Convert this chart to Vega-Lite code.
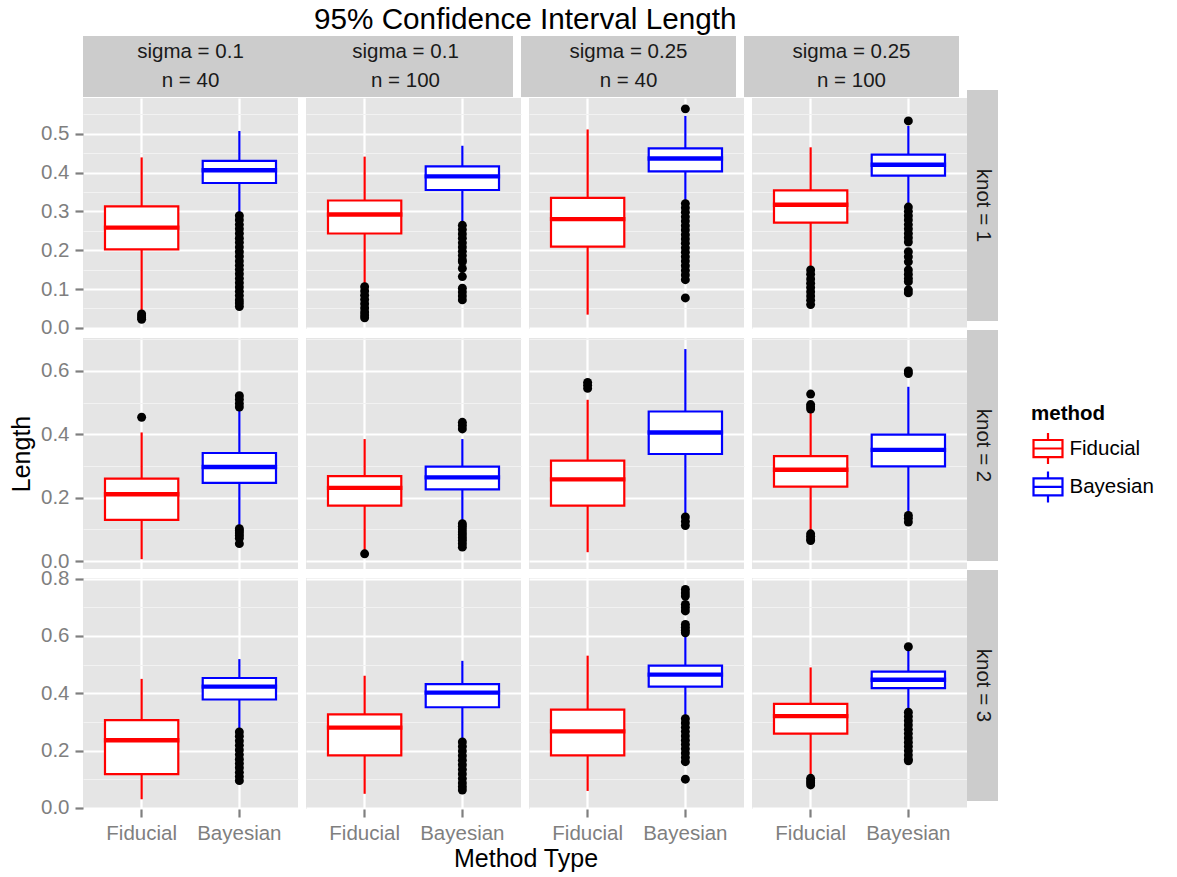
{
 "$schema": "https://vega.github.io/schema/vega-lite/v6.json",
 "background": "white",
 "padding": {"left": 9, "top": 5, "right": 5, "bottom": 5},
 "title": {"text": "95% Confidence Interval Length", "anchor": "start", "frame": "group", "dx": 231, "fontSize": 29.7, "fontWeight": "normal", "color": "#000000", "offset": -2},
 "datasets": {
  "box": [
   {"knot":1,"sigma":0.1,"n":40,"method":"Fiducial","lo":0.042,"q1":0.202,"med":0.258,"q3":0.313,"hi":0.439},
   {"knot":1,"sigma":0.1,"n":40,"method":"Bayesian","lo":0.294,"q1":0.373,"med":0.406,"q3":0.430,"hi":0.507},
   {"knot":1,"sigma":0.1,"n":100,"method":"Fiducial","lo":0.111,"q1":0.243,"med":0.292,"q3":0.328,"hi":0.441},
   {"knot":1,"sigma":0.1,"n":100,"method":"Bayesian","lo":0.268,"q1":0.355,"med":0.390,"q3":0.416,"hi":0.469},
   {"knot":1,"sigma":0.25,"n":40,"method":"Fiducial","lo":0.034,"q1":0.209,"med":0.280,"q3":0.335,"hi":0.511},
   {"knot":1,"sigma":0.25,"n":40,"method":"Bayesian","lo":0.324,"q1":0.403,"med":0.436,"q3":0.462,"hi":0.546},
   {"knot":1,"sigma":0.25,"n":100,"method":"Fiducial","lo":0.152,"q1":0.271,"med":0.317,"q3":0.354,"hi":0.465},
   {"knot":1,"sigma":0.25,"n":100,"method":"Bayesian","lo":0.317,"q1":0.392,"med":0.420,"q3":0.446,"hi":0.520},
   {"knot":2,"sigma":0.1,"n":40,"method":"Fiducial","lo":0.006,"q1":0.130,"med":0.211,"q3":0.260,"hi":0.406},
   {"knot":2,"sigma":0.1,"n":40,"method":"Bayesian","lo":0.107,"q1":0.247,"med":0.297,"q3":0.341,"hi":0.475},
   {"knot":2,"sigma":0.1,"n":100,"method":"Fiducial","lo":0.034,"q1":0.175,"med":0.231,"q3":0.268,"hi":0.385},
   {"knot":2,"sigma":0.1,"n":100,"method":"Bayesian","lo":0.120,"q1":0.226,"med":0.264,"q3":0.298,"hi":0.385},
   {"knot":2,"sigma":0.25,"n":40,"method":"Fiducial","lo":0.028,"q1":0.175,"med":0.258,"q3":0.317,"hi":0.509},
   {"knot":2,"sigma":0.25,"n":40,"method":"Bayesian","lo":0.144,"q1":0.338,"med":0.406,"q3":0.472,"hi":0.669},
   {"knot":2,"sigma":0.25,"n":100,"method":"Fiducial","lo":0.091,"q1":0.235,"med":0.288,"q3":0.331,"hi":0.469},
   {"knot":2,"sigma":0.25,"n":100,"method":"Bayesian","lo":0.149,"q1":0.299,"med":0.351,"q3":0.399,"hi":0.550},
   {"knot":3,"sigma":0.1,"n":40,"method":"Fiducial","lo":0.030,"q1":0.118,"med":0.236,"q3":0.306,"hi":0.450},
   {"knot":3,"sigma":0.1,"n":40,"method":"Bayesian","lo":0.270,"q1":0.378,"med":0.423,"q3":0.453,"hi":0.519},
   {"knot":3,"sigma":0.1,"n":100,"method":"Fiducial","lo":0.049,"q1":0.183,"med":0.280,"q3":0.326,"hi":0.461},
   {"knot":3,"sigma":0.1,"n":100,"method":"Bayesian","lo":0.236,"q1":0.351,"med":0.402,"q3":0.432,"hi":0.513},
   {"knot":3,"sigma":0.25,"n":40,"method":"Fiducial","lo":0.059,"q1":0.183,"med":0.267,"q3":0.343,"hi":0.531},
   {"knot":3,"sigma":0.25,"n":40,"method":"Bayesian","lo":0.317,"q1":0.423,"med":0.465,"q3":0.496,"hi":0.600},
   {"knot":3,"sigma":0.25,"n":100,"method":"Fiducial","lo":0.106,"q1":0.259,"med":0.320,"q3":0.363,"hi":0.490},
   {"knot":3,"sigma":0.25,"n":100,"method":"Bayesian","lo":0.340,"q1":0.418,"med":0.447,"q3":0.475,"hi":0.548}
  ],
  "out": [
   {"knot":1,"sigma":0.1,"n":40,"method":"Fiducial","Length":0.036},
   {"knot":1,"sigma":0.1,"n":40,"method":"Fiducial","Length":0.031},
   {"knot":1,"sigma":0.1,"n":40,"method":"Fiducial","Length":0.026},
   {"knot":1,"sigma":0.1,"n":40,"method":"Fiducial","Length":0.022},
   {"knot":1,"sigma":0.1,"n":40,"method":"Bayesian","Length":0.289},
   {"knot":1,"sigma":0.1,"n":40,"method":"Bayesian","Length":0.278},
   {"knot":1,"sigma":0.1,"n":40,"method":"Bayesian","Length":0.266},
   {"knot":1,"sigma":0.1,"n":40,"method":"Bayesian","Length":0.255},
   {"knot":1,"sigma":0.1,"n":40,"method":"Bayesian","Length":0.243},
   {"knot":1,"sigma":0.1,"n":40,"method":"Bayesian","Length":0.231},
   {"knot":1,"sigma":0.1,"n":40,"method":"Bayesian","Length":0.220},
   {"knot":1,"sigma":0.1,"n":40,"method":"Bayesian","Length":0.208},
   {"knot":1,"sigma":0.1,"n":40,"method":"Bayesian","Length":0.196},
   {"knot":1,"sigma":0.1,"n":40,"method":"Bayesian","Length":0.184},
   {"knot":1,"sigma":0.1,"n":40,"method":"Bayesian","Length":0.172},
   {"knot":1,"sigma":0.1,"n":40,"method":"Bayesian","Length":0.161},
   {"knot":1,"sigma":0.1,"n":40,"method":"Bayesian","Length":0.150},
   {"knot":1,"sigma":0.1,"n":40,"method":"Bayesian","Length":0.139},
   {"knot":1,"sigma":0.1,"n":40,"method":"Bayesian","Length":0.127},
   {"knot":1,"sigma":0.1,"n":40,"method":"Bayesian","Length":0.116},
   {"knot":1,"sigma":0.1,"n":40,"method":"Bayesian","Length":0.105},
   {"knot":1,"sigma":0.1,"n":40,"method":"Bayesian","Length":0.094},
   {"knot":1,"sigma":0.1,"n":40,"method":"Bayesian","Length":0.083},
   {"knot":1,"sigma":0.1,"n":40,"method":"Bayesian","Length":0.072},
   {"knot":1,"sigma":0.1,"n":40,"method":"Bayesian","Length":0.064},
   {"knot":1,"sigma":0.1,"n":40,"method":"Bayesian","Length":0.055},
   {"knot":1,"sigma":0.1,"n":100,"method":"Fiducial","Length":0.106},
   {"knot":1,"sigma":0.1,"n":100,"method":"Fiducial","Length":0.095},
   {"knot":1,"sigma":0.1,"n":100,"method":"Fiducial","Length":0.084},
   {"knot":1,"sigma":0.1,"n":100,"method":"Fiducial","Length":0.073},
   {"knot":1,"sigma":0.1,"n":100,"method":"Fiducial","Length":0.062},
   {"knot":1,"sigma":0.1,"n":100,"method":"Fiducial","Length":0.051},
   {"knot":1,"sigma":0.1,"n":100,"method":"Fiducial","Length":0.041},
   {"knot":1,"sigma":0.1,"n":100,"method":"Fiducial","Length":0.033},
   {"knot":1,"sigma":0.1,"n":100,"method":"Fiducial","Length":0.026},
   {"knot":1,"sigma":0.1,"n":100,"method":"Bayesian","Length":0.264},
   {"knot":1,"sigma":0.1,"n":100,"method":"Bayesian","Length":0.253},
   {"knot":1,"sigma":0.1,"n":100,"method":"Bayesian","Length":0.242},
   {"knot":1,"sigma":0.1,"n":100,"method":"Bayesian","Length":0.231},
   {"knot":1,"sigma":0.1,"n":100,"method":"Bayesian","Length":0.219},
   {"knot":1,"sigma":0.1,"n":100,"method":"Bayesian","Length":0.208},
   {"knot":1,"sigma":0.1,"n":100,"method":"Bayesian","Length":0.197},
   {"knot":1,"sigma":0.1,"n":100,"method":"Bayesian","Length":0.186},
   {"knot":1,"sigma":0.1,"n":100,"method":"Bayesian","Length":0.175},
   {"knot":1,"sigma":0.1,"n":100,"method":"Bayesian","Length":0.170},
   {"knot":1,"sigma":0.1,"n":100,"method":"Bayesian","Length":0.153},
   {"knot":1,"sigma":0.1,"n":100,"method":"Bayesian","Length":0.132},
   {"knot":1,"sigma":0.1,"n":100,"method":"Bayesian","Length":0.102},
   {"knot":1,"sigma":0.1,"n":100,"method":"Bayesian","Length":0.092},
   {"knot":1,"sigma":0.1,"n":100,"method":"Bayesian","Length":0.082},
   {"knot":1,"sigma":0.1,"n":100,"method":"Bayesian","Length":0.072},
   {"knot":1,"sigma":0.25,"n":40,"method":"Bayesian","Length":0.564},
   {"knot":1,"sigma":0.25,"n":40,"method":"Bayesian","Length":0.320},
   {"knot":1,"sigma":0.25,"n":40,"method":"Bayesian","Length":0.309},
   {"knot":1,"sigma":0.25,"n":40,"method":"Bayesian","Length":0.298},
   {"knot":1,"sigma":0.25,"n":40,"method":"Bayesian","Length":0.286},
   {"knot":1,"sigma":0.25,"n":40,"method":"Bayesian","Length":0.275},
   {"knot":1,"sigma":0.25,"n":40,"method":"Bayesian","Length":0.263},
   {"knot":1,"sigma":0.25,"n":40,"method":"Bayesian","Length":0.252},
   {"knot":1,"sigma":0.25,"n":40,"method":"Bayesian","Length":0.240},
   {"knot":1,"sigma":0.25,"n":40,"method":"Bayesian","Length":0.229},
   {"knot":1,"sigma":0.25,"n":40,"method":"Bayesian","Length":0.218},
   {"knot":1,"sigma":0.25,"n":40,"method":"Bayesian","Length":0.206},
   {"knot":1,"sigma":0.25,"n":40,"method":"Bayesian","Length":0.195},
   {"knot":1,"sigma":0.25,"n":40,"method":"Bayesian","Length":0.183},
   {"knot":1,"sigma":0.25,"n":40,"method":"Bayesian","Length":0.172},
   {"knot":1,"sigma":0.25,"n":40,"method":"Bayesian","Length":0.160},
   {"knot":1,"sigma":0.25,"n":40,"method":"Bayesian","Length":0.148},
   {"knot":1,"sigma":0.25,"n":40,"method":"Bayesian","Length":0.136},
   {"knot":1,"sigma":0.25,"n":40,"method":"Bayesian","Length":0.124},
   {"knot":1,"sigma":0.25,"n":40,"method":"Bayesian","Length":0.077},
   {"knot":1,"sigma":0.25,"n":100,"method":"Fiducial","Length":0.149},
   {"knot":1,"sigma":0.25,"n":100,"method":"Fiducial","Length":0.138},
   {"knot":1,"sigma":0.25,"n":100,"method":"Fiducial","Length":0.126},
   {"knot":1,"sigma":0.25,"n":100,"method":"Fiducial","Length":0.115},
   {"knot":1,"sigma":0.25,"n":100,"method":"Fiducial","Length":0.104},
   {"knot":1,"sigma":0.25,"n":100,"method":"Fiducial","Length":0.093},
   {"knot":1,"sigma":0.25,"n":100,"method":"Fiducial","Length":0.082},
   {"knot":1,"sigma":0.25,"n":100,"method":"Fiducial","Length":0.071},
   {"knot":1,"sigma":0.25,"n":100,"method":"Fiducial","Length":0.060},
   {"knot":1,"sigma":0.25,"n":100,"method":"Bayesian","Length":0.533},
   {"knot":1,"sigma":0.25,"n":100,"method":"Bayesian","Length":0.311},
   {"knot":1,"sigma":0.25,"n":100,"method":"Bayesian","Length":0.300},
   {"knot":1,"sigma":0.25,"n":100,"method":"Bayesian","Length":0.289},
   {"knot":1,"sigma":0.25,"n":100,"method":"Bayesian","Length":0.278},
   {"knot":1,"sigma":0.25,"n":100,"method":"Bayesian","Length":0.266},
   {"knot":1,"sigma":0.25,"n":100,"method":"Bayesian","Length":0.255},
   {"knot":1,"sigma":0.25,"n":100,"method":"Bayesian","Length":0.243},
   {"knot":1,"sigma":0.25,"n":100,"method":"Bayesian","Length":0.232},
   {"knot":1,"sigma":0.25,"n":100,"method":"Bayesian","Length":0.221},
   {"knot":1,"sigma":0.25,"n":100,"method":"Bayesian","Length":0.196},
   {"knot":1,"sigma":0.25,"n":100,"method":"Bayesian","Length":0.183},
   {"knot":1,"sigma":0.25,"n":100,"method":"Bayesian","Length":0.170},
   {"knot":1,"sigma":0.25,"n":100,"method":"Bayesian","Length":0.149},
   {"knot":1,"sigma":0.25,"n":100,"method":"Bayesian","Length":0.138},
   {"knot":1,"sigma":0.25,"n":100,"method":"Bayesian","Length":0.127},
   {"knot":1,"sigma":0.25,"n":100,"method":"Bayesian","Length":0.119},
   {"knot":1,"sigma":0.25,"n":100,"method":"Bayesian","Length":0.098},
   {"knot":1,"sigma":0.25,"n":100,"method":"Bayesian","Length":0.090},
   {"knot":2,"sigma":0.1,"n":40,"method":"Fiducial","Length":0.454},
   {"knot":2,"sigma":0.1,"n":40,"method":"Bayesian","Length":0.522},
   {"knot":2,"sigma":0.1,"n":40,"method":"Bayesian","Length":0.510},
   {"knot":2,"sigma":0.1,"n":40,"method":"Bayesian","Length":0.497},
   {"knot":2,"sigma":0.1,"n":40,"method":"Bayesian","Length":0.486},
   {"knot":2,"sigma":0.1,"n":40,"method":"Bayesian","Length":0.102},
   {"knot":2,"sigma":0.1,"n":40,"method":"Bayesian","Length":0.096},
   {"knot":2,"sigma":0.1,"n":40,"method":"Bayesian","Length":0.089},
   {"knot":2,"sigma":0.1,"n":40,"method":"Bayesian","Length":0.081},
   {"knot":2,"sigma":0.1,"n":40,"method":"Bayesian","Length":0.072},
   {"knot":2,"sigma":0.1,"n":40,"method":"Bayesian","Length":0.055},
   {"knot":2,"sigma":0.1,"n":100,"method":"Fiducial","Length":0.023},
   {"knot":2,"sigma":0.1,"n":100,"method":"Bayesian","Length":0.438},
   {"knot":2,"sigma":0.1,"n":100,"method":"Bayesian","Length":0.428},
   {"knot":2,"sigma":0.1,"n":100,"method":"Bayesian","Length":0.417},
   {"knot":2,"sigma":0.1,"n":100,"method":"Bayesian","Length":0.118},
   {"knot":2,"sigma":0.1,"n":100,"method":"Bayesian","Length":0.110},
   {"knot":2,"sigma":0.1,"n":100,"method":"Bayesian","Length":0.101},
   {"knot":2,"sigma":0.1,"n":100,"method":"Bayesian","Length":0.092},
   {"knot":2,"sigma":0.1,"n":100,"method":"Bayesian","Length":0.083},
   {"knot":2,"sigma":0.1,"n":100,"method":"Bayesian","Length":0.074},
   {"knot":2,"sigma":0.1,"n":100,"method":"Bayesian","Length":0.065},
   {"knot":2,"sigma":0.1,"n":100,"method":"Bayesian","Length":0.055},
   {"knot":2,"sigma":0.1,"n":100,"method":"Bayesian","Length":0.044},
   {"knot":2,"sigma":0.25,"n":40,"method":"Fiducial","Length":0.564},
   {"knot":2,"sigma":0.25,"n":40,"method":"Fiducial","Length":0.555},
   {"knot":2,"sigma":0.25,"n":40,"method":"Fiducial","Length":0.545},
   {"knot":2,"sigma":0.25,"n":40,"method":"Bayesian","Length":0.139},
   {"knot":2,"sigma":0.25,"n":40,"method":"Bayesian","Length":0.125},
   {"knot":2,"sigma":0.25,"n":40,"method":"Bayesian","Length":0.112},
   {"knot":2,"sigma":0.25,"n":100,"method":"Fiducial","Length":0.527},
   {"knot":2,"sigma":0.25,"n":100,"method":"Fiducial","Length":0.494},
   {"knot":2,"sigma":0.25,"n":100,"method":"Fiducial","Length":0.487},
   {"knot":2,"sigma":0.25,"n":100,"method":"Fiducial","Length":0.480},
   {"knot":2,"sigma":0.25,"n":100,"method":"Fiducial","Length":0.086},
   {"knot":2,"sigma":0.25,"n":100,"method":"Fiducial","Length":0.078},
   {"knot":2,"sigma":0.25,"n":100,"method":"Fiducial","Length":0.070},
   {"knot":2,"sigma":0.25,"n":100,"method":"Fiducial","Length":0.065},
   {"knot":2,"sigma":0.25,"n":100,"method":"Bayesian","Length":0.600},
   {"knot":2,"sigma":0.25,"n":100,"method":"Bayesian","Length":0.592},
   {"knot":2,"sigma":0.25,"n":100,"method":"Bayesian","Length":0.144},
   {"knot":2,"sigma":0.25,"n":100,"method":"Bayesian","Length":0.135},
   {"knot":2,"sigma":0.25,"n":100,"method":"Bayesian","Length":0.123},
   {"knot":3,"sigma":0.1,"n":40,"method":"Bayesian","Length":0.265},
   {"knot":3,"sigma":0.1,"n":40,"method":"Bayesian","Length":0.250},
   {"knot":3,"sigma":0.1,"n":40,"method":"Bayesian","Length":0.234},
   {"knot":3,"sigma":0.1,"n":40,"method":"Bayesian","Length":0.218},
   {"knot":3,"sigma":0.1,"n":40,"method":"Bayesian","Length":0.202},
   {"knot":3,"sigma":0.1,"n":40,"method":"Bayesian","Length":0.186},
   {"knot":3,"sigma":0.1,"n":40,"method":"Bayesian","Length":0.170},
   {"knot":3,"sigma":0.1,"n":40,"method":"Bayesian","Length":0.155},
   {"knot":3,"sigma":0.1,"n":40,"method":"Bayesian","Length":0.140},
   {"knot":3,"sigma":0.1,"n":40,"method":"Bayesian","Length":0.124},
   {"knot":3,"sigma":0.1,"n":40,"method":"Bayesian","Length":0.109},
   {"knot":3,"sigma":0.1,"n":40,"method":"Bayesian","Length":0.095},
   {"knot":3,"sigma":0.1,"n":100,"method":"Bayesian","Length":0.230},
   {"knot":3,"sigma":0.1,"n":100,"method":"Bayesian","Length":0.214},
   {"knot":3,"sigma":0.1,"n":100,"method":"Bayesian","Length":0.198},
   {"knot":3,"sigma":0.1,"n":100,"method":"Bayesian","Length":0.182},
   {"knot":3,"sigma":0.1,"n":100,"method":"Bayesian","Length":0.166},
   {"knot":3,"sigma":0.1,"n":100,"method":"Bayesian","Length":0.150},
   {"knot":3,"sigma":0.1,"n":100,"method":"Bayesian","Length":0.134},
   {"knot":3,"sigma":0.1,"n":100,"method":"Bayesian","Length":0.118},
   {"knot":3,"sigma":0.1,"n":100,"method":"Bayesian","Length":0.102},
   {"knot":3,"sigma":0.1,"n":100,"method":"Bayesian","Length":0.087},
   {"knot":3,"sigma":0.1,"n":100,"method":"Bayesian","Length":0.074},
   {"knot":3,"sigma":0.1,"n":100,"method":"Bayesian","Length":0.062},
   {"knot":3,"sigma":0.25,"n":40,"method":"Bayesian","Length":0.762},
   {"knot":3,"sigma":0.25,"n":40,"method":"Bayesian","Length":0.750},
   {"knot":3,"sigma":0.25,"n":40,"method":"Bayesian","Length":0.739},
   {"knot":3,"sigma":0.25,"n":40,"method":"Bayesian","Length":0.710},
   {"knot":3,"sigma":0.25,"n":40,"method":"Bayesian","Length":0.699},
   {"knot":3,"sigma":0.25,"n":40,"method":"Bayesian","Length":0.687},
   {"knot":3,"sigma":0.25,"n":40,"method":"Bayesian","Length":0.640},
   {"knot":3,"sigma":0.25,"n":40,"method":"Bayesian","Length":0.630},
   {"knot":3,"sigma":0.25,"n":40,"method":"Bayesian","Length":0.620},
   {"knot":3,"sigma":0.25,"n":40,"method":"Bayesian","Length":0.611},
   {"knot":3,"sigma":0.25,"n":40,"method":"Bayesian","Length":0.311},
   {"knot":3,"sigma":0.25,"n":40,"method":"Bayesian","Length":0.296},
   {"knot":3,"sigma":0.25,"n":40,"method":"Bayesian","Length":0.281},
   {"knot":3,"sigma":0.25,"n":40,"method":"Bayesian","Length":0.266},
   {"knot":3,"sigma":0.25,"n":40,"method":"Bayesian","Length":0.251},
   {"knot":3,"sigma":0.25,"n":40,"method":"Bayesian","Length":0.236},
   {"knot":3,"sigma":0.25,"n":40,"method":"Bayesian","Length":0.221},
   {"knot":3,"sigma":0.25,"n":40,"method":"Bayesian","Length":0.206},
   {"knot":3,"sigma":0.25,"n":40,"method":"Bayesian","Length":0.191},
   {"knot":3,"sigma":0.25,"n":40,"method":"Bayesian","Length":0.176},
   {"knot":3,"sigma":0.25,"n":40,"method":"Bayesian","Length":0.161},
   {"knot":3,"sigma":0.25,"n":40,"method":"Bayesian","Length":0.100},
   {"knot":3,"sigma":0.25,"n":100,"method":"Fiducial","Length":0.103},
   {"knot":3,"sigma":0.25,"n":100,"method":"Fiducial","Length":0.095},
   {"knot":3,"sigma":0.25,"n":100,"method":"Fiducial","Length":0.088},
   {"knot":3,"sigma":0.25,"n":100,"method":"Fiducial","Length":0.080},
   {"knot":3,"sigma":0.25,"n":100,"method":"Bayesian","Length":0.562},
   {"knot":3,"sigma":0.25,"n":100,"method":"Bayesian","Length":0.334},
   {"knot":3,"sigma":0.25,"n":100,"method":"Bayesian","Length":0.319},
   {"knot":3,"sigma":0.25,"n":100,"method":"Bayesian","Length":0.304},
   {"knot":3,"sigma":0.25,"n":100,"method":"Bayesian","Length":0.289},
   {"knot":3,"sigma":0.25,"n":100,"method":"Bayesian","Length":0.274},
   {"knot":3,"sigma":0.25,"n":100,"method":"Bayesian","Length":0.259},
   {"knot":3,"sigma":0.25,"n":100,"method":"Bayesian","Length":0.244},
   {"knot":3,"sigma":0.25,"n":100,"method":"Bayesian","Length":0.229},
   {"knot":3,"sigma":0.25,"n":100,"method":"Bayesian","Length":0.214},
   {"knot":3,"sigma":0.25,"n":100,"method":"Bayesian","Length":0.199},
   {"knot":3,"sigma":0.25,"n":100,"method":"Bayesian","Length":0.184},
   {"knot":3,"sigma":0.25,"n":100,"method":"Bayesian","Length":0.170},
   {"knot":3,"sigma":0.25,"n":100,"method":"Bayesian","Length":0.164}
  ]
 },
 "columns": 5,
 "bounds": "flush",
 "align": "each",
 "center": true,
 "spacing": {"row": 9, "column": 8},
 "concat": [
  {"width": 199, "height": 45, "view": {"fill": "#CCCCCC", "stroke": "#CCCCCC", "strokeWidth": 16}, "data": {"values": [{"label": "sigma = 0.1\nn = 40"}]}, "mark": {"type": "text", "fontSize": 20.5, "color": "#1A1A1A", "lineBreak": "\n", "lineHeight": 29, "baseline": "middle", "dy": -14.5}, "encoding": {"text": {"field": "label"}}},
  {"width": 199, "height": 45, "view": {"fill": "#CCCCCC", "stroke": "#CCCCCC", "strokeWidth": 16}, "data": {"values": [{"label": "sigma = 0.1\nn = 100"}]}, "mark": {"type": "text", "fontSize": 20.5, "color": "#1A1A1A", "lineBreak": "\n", "lineHeight": 29, "baseline": "middle", "dy": -14.5}, "encoding": {"text": {"field": "label"}}},
  {"width": 199, "height": 45, "view": {"fill": "#CCCCCC", "stroke": "#CCCCCC", "strokeWidth": 16}, "data": {"values": [{"label": "sigma = 0.25\nn = 40"}]}, "mark": {"type": "text", "fontSize": 20.5, "color": "#1A1A1A", "lineBreak": "\n", "lineHeight": 29, "baseline": "middle", "dy": -14.5}, "encoding": {"text": {"field": "label"}}},
  {"width": 199, "height": 45, "view": {"fill": "#CCCCCC", "stroke": "#CCCCCC", "strokeWidth": 16}, "data": {"values": [{"label": "sigma = 0.25\nn = 100"}]}, "mark": {"type": "text", "fontSize": 20.5, "color": "#1A1A1A", "lineBreak": "\n", "lineHeight": 29, "baseline": "middle", "dy": -14.5}, "encoding": {"text": {"field": "label"}}},
  {"width": 15, "height": 45, "view": {"fill": null, "stroke": null}, "data": {"values": [{"label": ""}]}, "mark": {"type": "text"}, "encoding": {"text": {"field": "label"}}},

  {"width": 215, "height": 231, "view": {"fill": "#E5E5E5", "stroke": null},
   "encoding": {"x": {"field": "method", "type": "nominal", "scale": {"type": "band", "domain": ["Fiducial", "Bayesian"], "paddingInner": 0.25, "paddingOuter": 0.225}, "axis": {"title": null, "labels": false, "ticks": false, "grid": true, "bandPosition": 0.5}},
    "stroke": {"field": "method", "type": "nominal", "scale": {"domain": ["Fiducial", "Bayesian"], "range": ["#FF0000", "#0000FF"]}, "legend": {"orient": "none", "legendX": 948, "legendY": 360}}},
   "layer": [
    {"data": {"name": "box"}, "transform": [{"filter": "datum.knot == 1 && datum.sigma == 0.1 && datum.n == 40"}], "mark": {"type": "rule", "strokeWidth": 2.2},
     "encoding": {"y": {"field": "lo", "type": "quantitative", "scale": {"domain": [-0.003, 0.592], "nice": false, "zero": false}, "axis": {"orient": "right", "title": null, "values": [0.05, 0.15, 0.25, 0.35, 0.45, 0.55], "grid": true, "gridColor": "#F2F2F2", "gridWidth": 1.1, "labels": false, "ticks": false}}, "y2": {"field": "hi"}}},
    {"data": {"name": "box"}, "transform": [{"filter": "datum.knot == 1 && datum.sigma == 0.1 && datum.n == 40"}], "mark": {"type": "bar", "fill": "#FFFFFF", "strokeWidth": 2.2, "opacity": 1},
     "encoding": {"y": {"field": "q1", "type": "quantitative", "scale": {"domain": [-0.003, 0.592], "nice": false, "zero": false}, "axis": {"orient": "left", "title": null, "values": [0, 0.1, 0.2, 0.3, 0.4, 0.5], "format": ".1f", "grid": true}}, "y2": {"field": "q3"}}},
    {"data": {"name": "box"}, "transform": [{"filter": "datum.knot == 1 && datum.sigma == 0.1 && datum.n == 40"}], "mark": {"type": "tick", "filled": false, "thickness": 2.2, "strokeWidth": 2.2, "size": 73.3, "opacity": 1},
     "encoding": {"y": {"field": "med", "type": "quantitative", "scale": {"domain": [-0.003, 0.592], "nice": false, "zero": false}, "axis": null}}},
    {"data": {"name": "out"}, "transform": [{"filter": "datum.knot == 1 && datum.sigma == 0.1 && datum.n == 40"}], "mark": {"type": "point", "filled": true, "fill": "#000000", "strokeWidth": 0, "size": 80, "opacity": 1},
     "encoding": {"y": {"field": "Length", "type": "quantitative", "scale": {"domain": [-0.003, 0.592], "nice": false, "zero": false}, "axis": null}, "stroke": {"value": null}}}
   ],
   "resolve": {"axis": {"y": "independent"}}},

  {"width": 215, "height": 231, "view": {"fill": "#E5E5E5", "stroke": null},
   "encoding": {"x": {"field": "method", "type": "nominal", "scale": {"type": "band", "domain": ["Fiducial", "Bayesian"], "paddingInner": 0.25, "paddingOuter": 0.225}, "axis": {"title": null, "labels": false, "ticks": false, "grid": true, "bandPosition": 0.5}},
    "stroke": {"field": "method", "type": "nominal", "scale": {"domain": ["Fiducial", "Bayesian"], "range": ["#FF0000", "#0000FF"]}, "legend": {"orient": "none", "legendX": 948, "legendY": 360}}},
   "layer": [
    {"data": {"name": "box"}, "transform": [{"filter": "datum.knot == 1 && datum.sigma == 0.1 && datum.n == 100"}], "mark": {"type": "rule", "strokeWidth": 2.2},
     "encoding": {"y": {"field": "lo", "type": "quantitative", "scale": {"domain": [-0.003, 0.592], "nice": false, "zero": false}, "axis": {"orient": "right", "title": null, "values": [0.05, 0.15, 0.25, 0.35, 0.45, 0.55], "grid": true, "gridColor": "#F2F2F2", "gridWidth": 1.1, "labels": false, "ticks": false}}, "y2": {"field": "hi"}}},
    {"data": {"name": "box"}, "transform": [{"filter": "datum.knot == 1 && datum.sigma == 0.1 && datum.n == 100"}], "mark": {"type": "bar", "fill": "#FFFFFF", "strokeWidth": 2.2, "opacity": 1},
     "encoding": {"y": {"field": "q1", "type": "quantitative", "scale": {"domain": [-0.003, 0.592], "nice": false, "zero": false}, "axis": {"orient": "left", "title": null, "values": [0, 0.1, 0.2, 0.3, 0.4, 0.5], "grid": true, "labels": false, "ticks": false}}, "y2": {"field": "q3"}}},
    {"data": {"name": "box"}, "transform": [{"filter": "datum.knot == 1 && datum.sigma == 0.1 && datum.n == 100"}], "mark": {"type": "tick", "filled": false, "thickness": 2.2, "strokeWidth": 2.2, "size": 73.3, "opacity": 1},
     "encoding": {"y": {"field": "med", "type": "quantitative", "scale": {"domain": [-0.003, 0.592], "nice": false, "zero": false}, "axis": null}}},
    {"data": {"name": "out"}, "transform": [{"filter": "datum.knot == 1 && datum.sigma == 0.1 && datum.n == 100"}], "mark": {"type": "point", "filled": true, "fill": "#000000", "strokeWidth": 0, "size": 80, "opacity": 1},
     "encoding": {"y": {"field": "Length", "type": "quantitative", "scale": {"domain": [-0.003, 0.592], "nice": false, "zero": false}, "axis": null}, "stroke": {"value": null}}}
   ],
   "resolve": {"axis": {"y": "independent"}}},

  {"width": 215, "height": 231, "view": {"fill": "#E5E5E5", "stroke": null},
   "encoding": {"x": {"field": "method", "type": "nominal", "scale": {"type": "band", "domain": ["Fiducial", "Bayesian"], "paddingInner": 0.25, "paddingOuter": 0.225}, "axis": {"title": null, "labels": false, "ticks": false, "grid": true, "bandPosition": 0.5}},
    "stroke": {"field": "method", "type": "nominal", "scale": {"domain": ["Fiducial", "Bayesian"], "range": ["#FF0000", "#0000FF"]}, "legend": {"orient": "none", "legendX": 948, "legendY": 360}}},
   "layer": [
    {"data": {"name": "box"}, "transform": [{"filter": "datum.knot == 1 && datum.sigma == 0.25 && datum.n == 40"}], "mark": {"type": "rule", "strokeWidth": 2.2},
     "encoding": {"y": {"field": "lo", "type": "quantitative", "scale": {"domain": [-0.003, 0.592], "nice": false, "zero": false}, "axis": {"orient": "right", "title": null, "values": [0.05, 0.15, 0.25, 0.35, 0.45, 0.55], "grid": true, "gridColor": "#F2F2F2", "gridWidth": 1.1, "labels": false, "ticks": false}}, "y2": {"field": "hi"}}},
    {"data": {"name": "box"}, "transform": [{"filter": "datum.knot == 1 && datum.sigma == 0.25 && datum.n == 40"}], "mark": {"type": "bar", "fill": "#FFFFFF", "strokeWidth": 2.2, "opacity": 1},
     "encoding": {"y": {"field": "q1", "type": "quantitative", "scale": {"domain": [-0.003, 0.592], "nice": false, "zero": false}, "axis": {"orient": "left", "title": null, "values": [0, 0.1, 0.2, 0.3, 0.4, 0.5], "grid": true, "labels": false, "ticks": false}}, "y2": {"field": "q3"}}},
    {"data": {"name": "box"}, "transform": [{"filter": "datum.knot == 1 && datum.sigma == 0.25 && datum.n == 40"}], "mark": {"type": "tick", "filled": false, "thickness": 2.2, "strokeWidth": 2.2, "size": 73.3, "opacity": 1},
     "encoding": {"y": {"field": "med", "type": "quantitative", "scale": {"domain": [-0.003, 0.592], "nice": false, "zero": false}, "axis": null}}},
    {"data": {"name": "out"}, "transform": [{"filter": "datum.knot == 1 && datum.sigma == 0.25 && datum.n == 40"}], "mark": {"type": "point", "filled": true, "fill": "#000000", "strokeWidth": 0, "size": 80, "opacity": 1},
     "encoding": {"y": {"field": "Length", "type": "quantitative", "scale": {"domain": [-0.003, 0.592], "nice": false, "zero": false}, "axis": null}, "stroke": {"value": null}}}
   ],
   "resolve": {"axis": {"y": "independent"}}},

  {"width": 215, "height": 231, "view": {"fill": "#E5E5E5", "stroke": null},
   "encoding": {"x": {"field": "method", "type": "nominal", "scale": {"type": "band", "domain": ["Fiducial", "Bayesian"], "paddingInner": 0.25, "paddingOuter": 0.225}, "axis": {"title": null, "labels": false, "ticks": false, "grid": true, "bandPosition": 0.5}},
    "stroke": {"field": "method", "type": "nominal", "scale": {"domain": ["Fiducial", "Bayesian"], "range": ["#FF0000", "#0000FF"]}, "legend": {"orient": "none", "legendX": 948, "legendY": 360}}},
   "layer": [
    {"data": {"name": "box"}, "transform": [{"filter": "datum.knot == 1 && datum.sigma == 0.25 && datum.n == 100"}], "mark": {"type": "rule", "strokeWidth": 2.2},
     "encoding": {"y": {"field": "lo", "type": "quantitative", "scale": {"domain": [-0.003, 0.592], "nice": false, "zero": false}, "axis": {"orient": "right", "title": null, "values": [0.05, 0.15, 0.25, 0.35, 0.45, 0.55], "grid": true, "gridColor": "#F2F2F2", "gridWidth": 1.1, "labels": false, "ticks": false}}, "y2": {"field": "hi"}}},
    {"data": {"name": "box"}, "transform": [{"filter": "datum.knot == 1 && datum.sigma == 0.25 && datum.n == 100"}], "mark": {"type": "bar", "fill": "#FFFFFF", "strokeWidth": 2.2, "opacity": 1},
     "encoding": {"y": {"field": "q1", "type": "quantitative", "scale": {"domain": [-0.003, 0.592], "nice": false, "zero": false}, "axis": {"orient": "left", "title": null, "values": [0, 0.1, 0.2, 0.3, 0.4, 0.5], "grid": true, "labels": false, "ticks": false}}, "y2": {"field": "q3"}}},
    {"data": {"name": "box"}, "transform": [{"filter": "datum.knot == 1 && datum.sigma == 0.25 && datum.n == 100"}], "mark": {"type": "tick", "filled": false, "thickness": 2.2, "strokeWidth": 2.2, "size": 73.3, "opacity": 1},
     "encoding": {"y": {"field": "med", "type": "quantitative", "scale": {"domain": [-0.003, 0.592], "nice": false, "zero": false}, "axis": null}}},
    {"data": {"name": "out"}, "transform": [{"filter": "datum.knot == 1 && datum.sigma == 0.25 && datum.n == 100"}], "mark": {"type": "point", "filled": true, "fill": "#000000", "strokeWidth": 0, "size": 80, "opacity": 1},
     "encoding": {"y": {"field": "Length", "type": "quantitative", "scale": {"domain": [-0.003, 0.592], "nice": false, "zero": false}, "axis": null}, "stroke": {"value": null}}}
   ],
   "resolve": {"axis": {"y": "independent"}}},

  {"width": 15, "height": 215, "view": {"fill": "#CCCCCC", "stroke": "#CCCCCC", "strokeWidth": 16}, "data": {"values": [{"label": "knot = 1"}]}, "mark": {"type": "text", "fontSize": 20.5, "angle": 90, "color": "#1A1A1A", "baseline": "middle"}, "encoding": {"text": {"field": "label"}}},

  {"width": 215, "height": 231, "view": {"fill": "#E5E5E5", "stroke": null},
   "encoding": {"x": {"field": "method", "type": "nominal", "scale": {"type": "band", "domain": ["Fiducial", "Bayesian"], "paddingInner": 0.25, "paddingOuter": 0.225}, "axis": {"title": null, "labels": false, "ticks": false, "grid": true, "bandPosition": 0.5}},
    "stroke": {"field": "method", "type": "nominal", "scale": {"domain": ["Fiducial", "Bayesian"], "range": ["#FF0000", "#0000FF"]}, "legend": {"orient": "none", "legendX": 948, "legendY": 360}}},
   "layer": [
    {"data": {"name": "box"}, "transform": [{"filter": "datum.knot == 2 && datum.sigma == 0.1 && datum.n == 40"}], "mark": {"type": "rule", "strokeWidth": 2.2},
     "encoding": {"y": {"field": "lo", "type": "quantitative", "scale": {"domain": [-0.025, 0.704], "nice": false, "zero": false}, "axis": {"orient": "right", "title": null, "values": [0.1, 0.3, 0.5, 0.7], "grid": true, "gridColor": "#F2F2F2", "gridWidth": 1.1, "labels": false, "ticks": false}}, "y2": {"field": "hi"}}},
    {"data": {"name": "box"}, "transform": [{"filter": "datum.knot == 2 && datum.sigma == 0.1 && datum.n == 40"}], "mark": {"type": "bar", "fill": "#FFFFFF", "strokeWidth": 2.2, "opacity": 1},
     "encoding": {"y": {"field": "q1", "type": "quantitative", "scale": {"domain": [-0.025, 0.704], "nice": false, "zero": false}, "axis": {"orient": "left", "title": "Length", "titlePadding": 6, "values": [0, 0.2, 0.4, 0.6], "format": ".1f", "grid": true}}, "y2": {"field": "q3"}}},
    {"data": {"name": "box"}, "transform": [{"filter": "datum.knot == 2 && datum.sigma == 0.1 && datum.n == 40"}], "mark": {"type": "tick", "filled": false, "thickness": 2.2, "strokeWidth": 2.2, "size": 73.3, "opacity": 1},
     "encoding": {"y": {"field": "med", "type": "quantitative", "scale": {"domain": [-0.025, 0.704], "nice": false, "zero": false}, "axis": null}}},
    {"data": {"name": "out"}, "transform": [{"filter": "datum.knot == 2 && datum.sigma == 0.1 && datum.n == 40"}], "mark": {"type": "point", "filled": true, "fill": "#000000", "strokeWidth": 0, "size": 80, "opacity": 1},
     "encoding": {"y": {"field": "Length", "type": "quantitative", "scale": {"domain": [-0.025, 0.704], "nice": false, "zero": false}, "axis": null}, "stroke": {"value": null}}}
   ],
   "resolve": {"axis": {"y": "independent"}}},

  {"width": 215, "height": 231, "view": {"fill": "#E5E5E5", "stroke": null},
   "encoding": {"x": {"field": "method", "type": "nominal", "scale": {"type": "band", "domain": ["Fiducial", "Bayesian"], "paddingInner": 0.25, "paddingOuter": 0.225}, "axis": {"title": null, "labels": false, "ticks": false, "grid": true, "bandPosition": 0.5}},
    "stroke": {"field": "method", "type": "nominal", "scale": {"domain": ["Fiducial", "Bayesian"], "range": ["#FF0000", "#0000FF"]}, "legend": {"orient": "none", "legendX": 948, "legendY": 360}}},
   "layer": [
    {"data": {"name": "box"}, "transform": [{"filter": "datum.knot == 2 && datum.sigma == 0.1 && datum.n == 100"}], "mark": {"type": "rule", "strokeWidth": 2.2},
     "encoding": {"y": {"field": "lo", "type": "quantitative", "scale": {"domain": [-0.025, 0.704], "nice": false, "zero": false}, "axis": {"orient": "right", "title": null, "values": [0.1, 0.3, 0.5, 0.7], "grid": true, "gridColor": "#F2F2F2", "gridWidth": 1.1, "labels": false, "ticks": false}}, "y2": {"field": "hi"}}},
    {"data": {"name": "box"}, "transform": [{"filter": "datum.knot == 2 && datum.sigma == 0.1 && datum.n == 100"}], "mark": {"type": "bar", "fill": "#FFFFFF", "strokeWidth": 2.2, "opacity": 1},
     "encoding": {"y": {"field": "q1", "type": "quantitative", "scale": {"domain": [-0.025, 0.704], "nice": false, "zero": false}, "axis": {"orient": "left", "title": null, "values": [0, 0.2, 0.4, 0.6], "grid": true, "labels": false, "ticks": false}}, "y2": {"field": "q3"}}},
    {"data": {"name": "box"}, "transform": [{"filter": "datum.knot == 2 && datum.sigma == 0.1 && datum.n == 100"}], "mark": {"type": "tick", "filled": false, "thickness": 2.2, "strokeWidth": 2.2, "size": 73.3, "opacity": 1},
     "encoding": {"y": {"field": "med", "type": "quantitative", "scale": {"domain": [-0.025, 0.704], "nice": false, "zero": false}, "axis": null}}},
    {"data": {"name": "out"}, "transform": [{"filter": "datum.knot == 2 && datum.sigma == 0.1 && datum.n == 100"}], "mark": {"type": "point", "filled": true, "fill": "#000000", "strokeWidth": 0, "size": 80, "opacity": 1},
     "encoding": {"y": {"field": "Length", "type": "quantitative", "scale": {"domain": [-0.025, 0.704], "nice": false, "zero": false}, "axis": null}, "stroke": {"value": null}}}
   ],
   "resolve": {"axis": {"y": "independent"}}},

  {"width": 215, "height": 231, "view": {"fill": "#E5E5E5", "stroke": null},
   "encoding": {"x": {"field": "method", "type": "nominal", "scale": {"type": "band", "domain": ["Fiducial", "Bayesian"], "paddingInner": 0.25, "paddingOuter": 0.225}, "axis": {"title": null, "labels": false, "ticks": false, "grid": true, "bandPosition": 0.5}},
    "stroke": {"field": "method", "type": "nominal", "scale": {"domain": ["Fiducial", "Bayesian"], "range": ["#FF0000", "#0000FF"]}, "legend": {"orient": "none", "legendX": 948, "legendY": 360}}},
   "layer": [
    {"data": {"name": "box"}, "transform": [{"filter": "datum.knot == 2 && datum.sigma == 0.25 && datum.n == 40"}], "mark": {"type": "rule", "strokeWidth": 2.2},
     "encoding": {"y": {"field": "lo", "type": "quantitative", "scale": {"domain": [-0.025, 0.704], "nice": false, "zero": false}, "axis": {"orient": "right", "title": null, "values": [0.1, 0.3, 0.5, 0.7], "grid": true, "gridColor": "#F2F2F2", "gridWidth": 1.1, "labels": false, "ticks": false}}, "y2": {"field": "hi"}}},
    {"data": {"name": "box"}, "transform": [{"filter": "datum.knot == 2 && datum.sigma == 0.25 && datum.n == 40"}], "mark": {"type": "bar", "fill": "#FFFFFF", "strokeWidth": 2.2, "opacity": 1},
     "encoding": {"y": {"field": "q1", "type": "quantitative", "scale": {"domain": [-0.025, 0.704], "nice": false, "zero": false}, "axis": {"orient": "left", "title": null, "values": [0, 0.2, 0.4, 0.6], "grid": true, "labels": false, "ticks": false}}, "y2": {"field": "q3"}}},
    {"data": {"name": "box"}, "transform": [{"filter": "datum.knot == 2 && datum.sigma == 0.25 && datum.n == 40"}], "mark": {"type": "tick", "filled": false, "thickness": 2.2, "strokeWidth": 2.2, "size": 73.3, "opacity": 1},
     "encoding": {"y": {"field": "med", "type": "quantitative", "scale": {"domain": [-0.025, 0.704], "nice": false, "zero": false}, "axis": null}}},
    {"data": {"name": "out"}, "transform": [{"filter": "datum.knot == 2 && datum.sigma == 0.25 && datum.n == 40"}], "mark": {"type": "point", "filled": true, "fill": "#000000", "strokeWidth": 0, "size": 80, "opacity": 1},
     "encoding": {"y": {"field": "Length", "type": "quantitative", "scale": {"domain": [-0.025, 0.704], "nice": false, "zero": false}, "axis": null}, "stroke": {"value": null}}}
   ],
   "resolve": {"axis": {"y": "independent"}}},

  {"width": 215, "height": 231, "view": {"fill": "#E5E5E5", "stroke": null},
   "encoding": {"x": {"field": "method", "type": "nominal", "scale": {"type": "band", "domain": ["Fiducial", "Bayesian"], "paddingInner": 0.25, "paddingOuter": 0.225}, "axis": {"title": null, "labels": false, "ticks": false, "grid": true, "bandPosition": 0.5}},
    "stroke": {"field": "method", "type": "nominal", "scale": {"domain": ["Fiducial", "Bayesian"], "range": ["#FF0000", "#0000FF"]}, "legend": {"orient": "none", "legendX": 948, "legendY": 360}}},
   "layer": [
    {"data": {"name": "box"}, "transform": [{"filter": "datum.knot == 2 && datum.sigma == 0.25 && datum.n == 100"}], "mark": {"type": "rule", "strokeWidth": 2.2},
     "encoding": {"y": {"field": "lo", "type": "quantitative", "scale": {"domain": [-0.025, 0.704], "nice": false, "zero": false}, "axis": {"orient": "right", "title": null, "values": [0.1, 0.3, 0.5, 0.7], "grid": true, "gridColor": "#F2F2F2", "gridWidth": 1.1, "labels": false, "ticks": false}}, "y2": {"field": "hi"}}},
    {"data": {"name": "box"}, "transform": [{"filter": "datum.knot == 2 && datum.sigma == 0.25 && datum.n == 100"}], "mark": {"type": "bar", "fill": "#FFFFFF", "strokeWidth": 2.2, "opacity": 1},
     "encoding": {"y": {"field": "q1", "type": "quantitative", "scale": {"domain": [-0.025, 0.704], "nice": false, "zero": false}, "axis": {"orient": "left", "title": null, "values": [0, 0.2, 0.4, 0.6], "grid": true, "labels": false, "ticks": false}}, "y2": {"field": "q3"}}},
    {"data": {"name": "box"}, "transform": [{"filter": "datum.knot == 2 && datum.sigma == 0.25 && datum.n == 100"}], "mark": {"type": "tick", "filled": false, "thickness": 2.2, "strokeWidth": 2.2, "size": 73.3, "opacity": 1},
     "encoding": {"y": {"field": "med", "type": "quantitative", "scale": {"domain": [-0.025, 0.704], "nice": false, "zero": false}, "axis": null}}},
    {"data": {"name": "out"}, "transform": [{"filter": "datum.knot == 2 && datum.sigma == 0.25 && datum.n == 100"}], "mark": {"type": "point", "filled": true, "fill": "#000000", "strokeWidth": 0, "size": 80, "opacity": 1},
     "encoding": {"y": {"field": "Length", "type": "quantitative", "scale": {"domain": [-0.025, 0.704], "nice": false, "zero": false}, "axis": null}, "stroke": {"value": null}}}
   ],
   "resolve": {"axis": {"y": "independent"}}},

  {"width": 15, "height": 215, "view": {"fill": "#CCCCCC", "stroke": "#CCCCCC", "strokeWidth": 16}, "data": {"values": [{"label": "knot = 2"}]}, "mark": {"type": "text", "fontSize": 20.5, "angle": 90, "color": "#1A1A1A", "baseline": "middle"}, "encoding": {"text": {"field": "label"}}},

  {"width": 215, "height": 231, "view": {"fill": "#E5E5E5", "stroke": null},
   "encoding": {"x": {"field": "method", "type": "nominal", "scale": {"type": "band", "domain": ["Fiducial", "Bayesian"], "paddingInner": 0.25, "paddingOuter": 0.225}, "axis": {"title": "Method Type", "titleX": 442.5, "titlePadding": 3, "labels": true, "labelAngle": 0, "ticks": true, "grid": true, "bandPosition": 0.5}},
    "stroke": {"field": "method", "type": "nominal", "scale": {"domain": ["Fiducial", "Bayesian"], "range": ["#FF0000", "#0000FF"]}, "legend": {"orient": "none", "legendX": 948, "legendY": 360}}},
   "layer": [
    {"data": {"name": "box"}, "transform": [{"filter": "datum.knot == 3 && datum.sigma == 0.1 && datum.n == 40"}], "mark": {"type": "rule", "strokeWidth": 2.2},
     "encoding": {"y": {"field": "lo", "type": "quantitative", "scale": {"domain": [-0.004, 0.802], "nice": false, "zero": false}, "axis": {"orient": "right", "title": null, "values": [0.1, 0.3, 0.5, 0.7], "grid": true, "gridColor": "#F2F2F2", "gridWidth": 1.1, "labels": false, "ticks": false}}, "y2": {"field": "hi"}}},
    {"data": {"name": "box"}, "transform": [{"filter": "datum.knot == 3 && datum.sigma == 0.1 && datum.n == 40"}], "mark": {"type": "bar", "fill": "#FFFFFF", "strokeWidth": 2.2, "opacity": 1},
     "encoding": {"y": {"field": "q1", "type": "quantitative", "scale": {"domain": [-0.004, 0.802], "nice": false, "zero": false}, "axis": {"orient": "left", "title": null, "values": [0, 0.2, 0.4, 0.6, 0.8], "format": ".1f", "grid": true}}, "y2": {"field": "q3"}}},
    {"data": {"name": "box"}, "transform": [{"filter": "datum.knot == 3 && datum.sigma == 0.1 && datum.n == 40"}], "mark": {"type": "tick", "filled": false, "thickness": 2.2, "strokeWidth": 2.2, "size": 73.3, "opacity": 1},
     "encoding": {"y": {"field": "med", "type": "quantitative", "scale": {"domain": [-0.004, 0.802], "nice": false, "zero": false}, "axis": null}}},
    {"data": {"name": "out"}, "transform": [{"filter": "datum.knot == 3 && datum.sigma == 0.1 && datum.n == 40"}], "mark": {"type": "point", "filled": true, "fill": "#000000", "strokeWidth": 0, "size": 80, "opacity": 1},
     "encoding": {"y": {"field": "Length", "type": "quantitative", "scale": {"domain": [-0.004, 0.802], "nice": false, "zero": false}, "axis": null}, "stroke": {"value": null}}}
   ],
   "resolve": {"axis": {"y": "independent"}}},

  {"width": 215, "height": 231, "view": {"fill": "#E5E5E5", "stroke": null},
   "encoding": {"x": {"field": "method", "type": "nominal", "scale": {"type": "band", "domain": ["Fiducial", "Bayesian"], "paddingInner": 0.25, "paddingOuter": 0.225}, "axis": {"title": null, "labels": true, "labelAngle": 0, "ticks": true, "grid": true, "bandPosition": 0.5}},
    "stroke": {"field": "method", "type": "nominal", "scale": {"domain": ["Fiducial", "Bayesian"], "range": ["#FF0000", "#0000FF"]}, "legend": {"orient": "none", "legendX": 948, "legendY": 360}}},
   "layer": [
    {"data": {"name": "box"}, "transform": [{"filter": "datum.knot == 3 && datum.sigma == 0.1 && datum.n == 100"}], "mark": {"type": "rule", "strokeWidth": 2.2},
     "encoding": {"y": {"field": "lo", "type": "quantitative", "scale": {"domain": [-0.004, 0.802], "nice": false, "zero": false}, "axis": {"orient": "right", "title": null, "values": [0.1, 0.3, 0.5, 0.7], "grid": true, "gridColor": "#F2F2F2", "gridWidth": 1.1, "labels": false, "ticks": false}}, "y2": {"field": "hi"}}},
    {"data": {"name": "box"}, "transform": [{"filter": "datum.knot == 3 && datum.sigma == 0.1 && datum.n == 100"}], "mark": {"type": "bar", "fill": "#FFFFFF", "strokeWidth": 2.2, "opacity": 1},
     "encoding": {"y": {"field": "q1", "type": "quantitative", "scale": {"domain": [-0.004, 0.802], "nice": false, "zero": false}, "axis": {"orient": "left", "title": null, "values": [0, 0.2, 0.4, 0.6, 0.8], "grid": true, "labels": false, "ticks": false}}, "y2": {"field": "q3"}}},
    {"data": {"name": "box"}, "transform": [{"filter": "datum.knot == 3 && datum.sigma == 0.1 && datum.n == 100"}], "mark": {"type": "tick", "filled": false, "thickness": 2.2, "strokeWidth": 2.2, "size": 73.3, "opacity": 1},
     "encoding": {"y": {"field": "med", "type": "quantitative", "scale": {"domain": [-0.004, 0.802], "nice": false, "zero": false}, "axis": null}}},
    {"data": {"name": "out"}, "transform": [{"filter": "datum.knot == 3 && datum.sigma == 0.1 && datum.n == 100"}], "mark": {"type": "point", "filled": true, "fill": "#000000", "strokeWidth": 0, "size": 80, "opacity": 1},
     "encoding": {"y": {"field": "Length", "type": "quantitative", "scale": {"domain": [-0.004, 0.802], "nice": false, "zero": false}, "axis": null}, "stroke": {"value": null}}}
   ],
   "resolve": {"axis": {"y": "independent"}}},

  {"width": 215, "height": 231, "view": {"fill": "#E5E5E5", "stroke": null},
   "encoding": {"x": {"field": "method", "type": "nominal", "scale": {"type": "band", "domain": ["Fiducial", "Bayesian"], "paddingInner": 0.25, "paddingOuter": 0.225}, "axis": {"title": null, "labels": true, "labelAngle": 0, "ticks": true, "grid": true, "bandPosition": 0.5}},
    "stroke": {"field": "method", "type": "nominal", "scale": {"domain": ["Fiducial", "Bayesian"], "range": ["#FF0000", "#0000FF"]}, "legend": {"orient": "none", "legendX": 948, "legendY": 360}}},
   "layer": [
    {"data": {"name": "box"}, "transform": [{"filter": "datum.knot == 3 && datum.sigma == 0.25 && datum.n == 40"}], "mark": {"type": "rule", "strokeWidth": 2.2},
     "encoding": {"y": {"field": "lo", "type": "quantitative", "scale": {"domain": [-0.004, 0.802], "nice": false, "zero": false}, "axis": {"orient": "right", "title": null, "values": [0.1, 0.3, 0.5, 0.7], "grid": true, "gridColor": "#F2F2F2", "gridWidth": 1.1, "labels": false, "ticks": false}}, "y2": {"field": "hi"}}},
    {"data": {"name": "box"}, "transform": [{"filter": "datum.knot == 3 && datum.sigma == 0.25 && datum.n == 40"}], "mark": {"type": "bar", "fill": "#FFFFFF", "strokeWidth": 2.2, "opacity": 1},
     "encoding": {"y": {"field": "q1", "type": "quantitative", "scale": {"domain": [-0.004, 0.802], "nice": false, "zero": false}, "axis": {"orient": "left", "title": null, "values": [0, 0.2, 0.4, 0.6, 0.8], "grid": true, "labels": false, "ticks": false}}, "y2": {"field": "q3"}}},
    {"data": {"name": "box"}, "transform": [{"filter": "datum.knot == 3 && datum.sigma == 0.25 && datum.n == 40"}], "mark": {"type": "tick", "filled": false, "thickness": 2.2, "strokeWidth": 2.2, "size": 73.3, "opacity": 1},
     "encoding": {"y": {"field": "med", "type": "quantitative", "scale": {"domain": [-0.004, 0.802], "nice": false, "zero": false}, "axis": null}}},
    {"data": {"name": "out"}, "transform": [{"filter": "datum.knot == 3 && datum.sigma == 0.25 && datum.n == 40"}], "mark": {"type": "point", "filled": true, "fill": "#000000", "strokeWidth": 0, "size": 80, "opacity": 1},
     "encoding": {"y": {"field": "Length", "type": "quantitative", "scale": {"domain": [-0.004, 0.802], "nice": false, "zero": false}, "axis": null}, "stroke": {"value": null}}}
   ],
   "resolve": {"axis": {"y": "independent"}}},

  {"width": 215, "height": 231, "view": {"fill": "#E5E5E5", "stroke": null},
   "encoding": {"x": {"field": "method", "type": "nominal", "scale": {"type": "band", "domain": ["Fiducial", "Bayesian"], "paddingInner": 0.25, "paddingOuter": 0.225}, "axis": {"title": null, "labels": true, "labelAngle": 0, "ticks": true, "grid": true, "bandPosition": 0.5}},
    "stroke": {"field": "method", "type": "nominal", "scale": {"domain": ["Fiducial", "Bayesian"], "range": ["#FF0000", "#0000FF"]}, "legend": {"orient": "none", "legendX": 948, "legendY": 360}}},
   "layer": [
    {"data": {"name": "box"}, "transform": [{"filter": "datum.knot == 3 && datum.sigma == 0.25 && datum.n == 100"}], "mark": {"type": "rule", "strokeWidth": 2.2},
     "encoding": {"y": {"field": "lo", "type": "quantitative", "scale": {"domain": [-0.004, 0.802], "nice": false, "zero": false}, "axis": {"orient": "right", "title": null, "values": [0.1, 0.3, 0.5, 0.7], "grid": true, "gridColor": "#F2F2F2", "gridWidth": 1.1, "labels": false, "ticks": false}}, "y2": {"field": "hi"}}},
    {"data": {"name": "box"}, "transform": [{"filter": "datum.knot == 3 && datum.sigma == 0.25 && datum.n == 100"}], "mark": {"type": "bar", "fill": "#FFFFFF", "strokeWidth": 2.2, "opacity": 1},
     "encoding": {"y": {"field": "q1", "type": "quantitative", "scale": {"domain": [-0.004, 0.802], "nice": false, "zero": false}, "axis": {"orient": "left", "title": null, "values": [0, 0.2, 0.4, 0.6, 0.8], "grid": true, "labels": false, "ticks": false}}, "y2": {"field": "q3"}}},
    {"data": {"name": "box"}, "transform": [{"filter": "datum.knot == 3 && datum.sigma == 0.25 && datum.n == 100"}], "mark": {"type": "tick", "filled": false, "thickness": 2.2, "strokeWidth": 2.2, "size": 73.3, "opacity": 1},
     "encoding": {"y": {"field": "med", "type": "quantitative", "scale": {"domain": [-0.004, 0.802], "nice": false, "zero": false}, "axis": null}}},
    {"data": {"name": "out"}, "transform": [{"filter": "datum.knot == 3 && datum.sigma == 0.25 && datum.n == 100"}], "mark": {"type": "point", "filled": true, "fill": "#000000", "strokeWidth": 0, "size": 80, "opacity": 1},
     "encoding": {"y": {"field": "Length", "type": "quantitative", "scale": {"domain": [-0.004, 0.802], "nice": false, "zero": false}, "axis": null}, "stroke": {"value": null}}}
   ],
   "resolve": {"axis": {"y": "independent"}}},

  {"width": 15, "height": 215, "view": {"fill": "#CCCCCC", "stroke": "#CCCCCC", "strokeWidth": 16}, "data": {"values": [{"label": "knot = 3"}]}, "mark": {"type": "text", "fontSize": 20.5, "angle": 90, "color": "#1A1A1A", "baseline": "middle"}, "encoding": {"text": {"field": "label"}}}
 ],
 "config": {
  "font": "Liberation Sans",
  "view": {"stroke": null},
  "axis": {"domain": false, "gridColor": "#FFFFFF", "gridWidth": 2.2, "labelColor": "#7F7F7F", "labelFontSize": 20.5, "tickColor": "#7F7F7F", "tickSize": 8, "tickWidth": 2.2, "labelPadding": 6, "titleFontSize": 25, "titleFontWeight": "normal", "titleColor": "#000000"},
  "legend": {"symbolType": "M0,-1V-0.55M0,0.55V1M-0.935,-0.55H0.935V0.55H-0.935ZM-0.935,0H0.935", "symbolSize": 961, "symbolStrokeWidth": 2.2, "symbolFillColor": "#FFFFFF", "labelFontSize": 20.5, "labelColor": "#000000", "titleFontSize": 20.5, "titleFontWeight": "bold", "titleColor": "#000000", "titlePadding": 7, "rowPadding": -1.6, "labelOffset": 4.5}
 }
}
